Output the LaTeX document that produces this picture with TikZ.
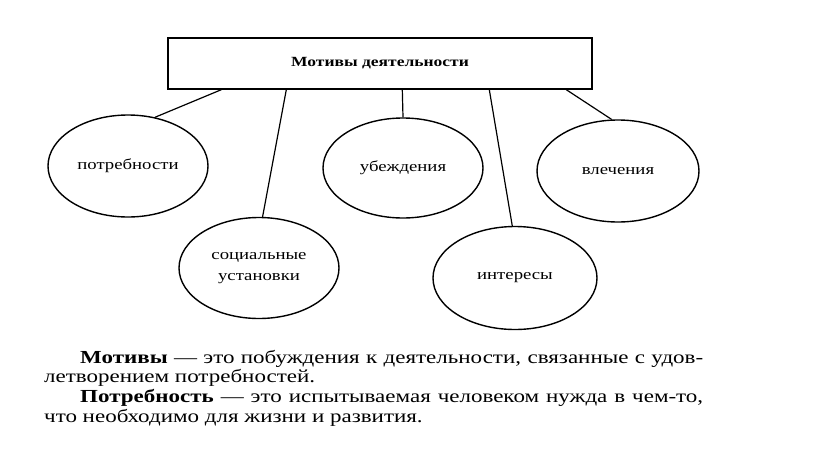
\documentclass[tikz,border=0pt]{standalone}
\usepackage{fontspec}
\setmainfont{Liberation Serif}[FakeStretch=1.25]
\usetikzlibrary{shapes.geometric,calc}
\tikzset{
  oval/.style={ellipse, draw, line width=1.4pt, inner sep=0pt, align=center, font=\fontsize{15}{17}\selectfont},
  topbox/.style={draw, line width=1.4pt, minimum width=424pt, minimum height=51pt, inner sep=0pt, font=\bfseries\fontsize{14}{16}\selectfont},
  link/.style={line width=1.2pt}
}
\begin{document}
\begin{tikzpicture}[x=1pt,y=-1pt]
\useasboundingbox (0,0) rectangle (816,455);
\node[topbox] (box) at (380,63.5) {Мотивы деятельности};
\node[oval, minimum width=160pt, minimum height=102pt] (potr) at (128,166) {потребности};
\node[oval, minimum width=160pt, minimum height=101pt] (soc) at (259,268) {социальные\\[4pt]установки};
\node[oval, minimum width=160pt, minimum height=100pt] (ube) at (403,168) {убеждения};
\node[oval, minimum width=164pt, minimum height=103pt] (int) at (515,278) {интересы};
\node[oval, minimum width=162pt, minimum height=102pt] (vle) at (618,171) {влечения};
\draw[link] ($(box.south west)+(54,0)$) -- (potr.61);
\draw[link] ($(box.south west)+(119,0)$) -- (soc.86);
\draw[link] ($(box.south west)+(235,0)$) -- (ube.north);
\draw[link] ($(box.south west)+(322,0)$) -- (int.93);
\draw[link] ($(box.south west)+(399,0)$) -- (vle.97);
\node[anchor=north west, inner sep=0pt, text width=659pt, align=justify, font=\fontsize{18.4}{19.6}\selectfont] (txt) at (44,350) {%
\hspace*{36pt}\textbf{Мотивы} — это побуждения к деятельности, связанные с удов-\linebreak летворением потребностей.\par
\hspace*{36pt}\textbf{Потребность} — это испытываемая человеком нужда в чем-то,\linebreak что необходимо для жизни и развития.\par};
\end{tikzpicture}
\end{document}
